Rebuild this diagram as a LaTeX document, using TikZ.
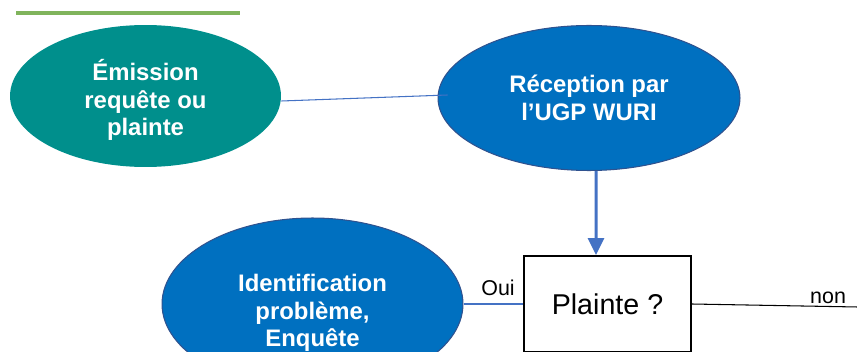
\documentclass[tikz,border=0pt]{standalone}
\usepackage{fontspec}
\setmainfont{Liberation Sans}
\usetikzlibrary{arrows.meta, shapes.geometric}

\definecolor{tealfill}{RGB}{0,143,140}
\definecolor{bluefill}{RGB}{0,112,192}
\definecolor{blueedge}{RGB}{47,82,143}
\definecolor{linkblue}{RGB}{68,114,196}
\definecolor{rulegreen}{RGB}{128,180,92}

\begin{document}
\begin{tikzpicture}[x=0.02cm, y=-0.02cm, >=Triangle,
    bubble/.style={ellipse, inner sep=0pt, text=white, align=center,
        font=\fontsize{13.6}{15.6}\selectfont\bfseries},
    link/.style={draw=linkblue, line width=0.6pt}]

    \useasboundingbox (0,0) rectangle (857,351);
    \clip (0,0) rectangle (857,351);

    % Top rule
    \draw[rulegreen, line width=2pt] (16,13) -- (240,13);

    % Nodes
    \node (emission) [bubble, fill=tealfill, minimum width=5.42cm, minimum height=2.84cm] at (145.5,96) {\rule{0pt}{16.5pt}Émission\\requête ou\\plainte};
    \node (reception) [bubble, fill=bluefill, draw=blueedge, line width=0.6pt, minimum width=6.04cm, minimum height=2.9cm] at (589,98) {Réception par\\l’UGP WURI};
    \node (identification) [bubble, fill=bluefill, draw=blueedge, line width=0.6pt, minimum width=6.02cm, minimum height=3.44cm] at (312.5,304) {\rule{0pt}{20pt}Identification\\problème,\\Enquête};
    \node (plainte) [draw, line width=1.1pt, minimum width=3.34cm, minimum height=1.92cm, font=\fontsize{16.3}{19}\selectfont] at (607.5,304) {Plainte ?};
    \coordinate (sortie) at (858,307);

    % Links
    \draw[link] ([yshift=-0.1cm]emission.east) -- ([xshift=0.2cm, yshift=0.06cm]reception.west);
    \draw[->, linkblue, line width=1.7pt, arrows={-Triangle[width=0.32cm, length=0.34cm]}] ([xshift=0.14cm]reception.south) -- ([xshift=-0.23cm]plainte.north);
    \draw[link] (identification.east) -- (plainte.west) node[pos=0.58, above=1pt, text=black, font=\fontsize{12.2}{14}\selectfont] {Oui};
    \draw[line width=0.6pt] (plainte.east) -- (sortie) node[pos=0.82, above=-1.8pt, font=\fontsize{12.2}{14}\selectfont] {non};

\end{tikzpicture}
\end{document}
